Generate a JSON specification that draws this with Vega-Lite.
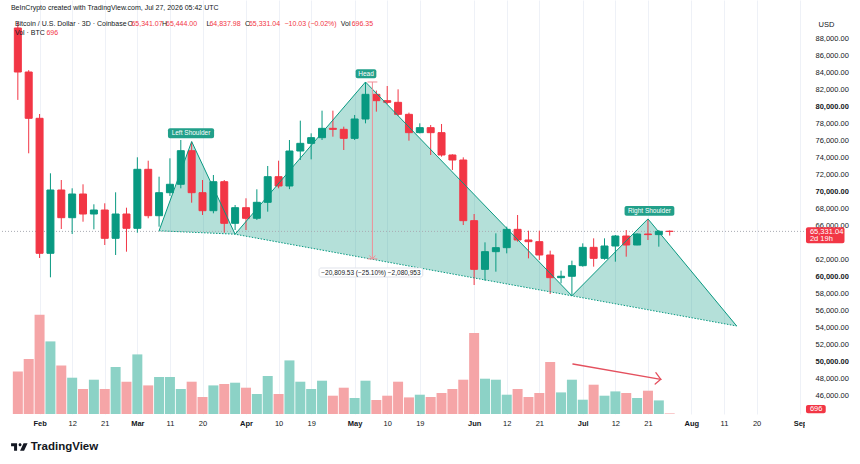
{
  "$schema": "https://vega.github.io/schema/vega-lite/v6.json",
  "width": 810,
  "height": 414,
  "autosize": "none",
  "padding": {"left": 0, "top": 0, "right": 50, "bottom": 50},
  "background": "white",
  "config": {
    "view": {"stroke": null},
    "font": "Liberation Sans",
    "axis": {
      "labelFont": "Liberation Sans", "titleFont": "Liberation Sans",
      "labelOverlap": false, "labelFlush": false, "labelBound": false,
      "domain": false, "ticks": false, "grid": true, "gridColor": "#eef1f7", "gridWidth": 1,
      "labelColor": "#131722", "labelFontSize": 7.5, "labelPadding": 5
    }
  },
  "datasets": {
    "bars": [
      {"t":"2026-01-28","open":89259,"high":89965,"low":80800,"close":84082,"volume":51120},
      {"t":"2026-01-31","open":84082,"high":84300,"low":74518,"close":78635,"volume":66000},
      {"t":"2026-02-03","open":78635,"high":79141,"low":62200,"close":62753,"volume":119160},
      {"t":"2026-02-06","open":62753,"high":72165,"low":59929,"close":70200,"volume":87120},
      {"t":"2026-02-09","open":70200,"high":71376,"low":65612,"close":66941,"volume":58320},
      {"t":"2026-02-12","open":66941,"high":70400,"low":65023,"close":69729,"volume":43560},
      {"t":"2026-02-15","open":69729,"high":70870,"low":66470,"close":67376,"volume":30000},
      {"t":"2026-02-18","open":67376,"high":68518,"low":65576,"close":67847,"volume":41160},
      {"t":"2026-02-21","open":67847,"high":68635,"low":63729,"close":64518,"volume":30000},
      {"t":"2026-02-24","open":64518,"high":69929,"low":62553,"close":67376,"volume":56400},
      {"t":"2026-02-27","open":67376,"high":68118,"low":62941,"close":65694,"volume":38760},
      {"t":"2026-03-02","open":65694,"high":74047,"low":65176,"close":72635,"volume":71520},
      {"t":"2026-03-05","open":72635,"high":73647,"low":66871,"close":67176,"volume":34320},
      {"t":"2026-03-08","open":67176,"high":71765,"low":65882,"close":69882,"volume":44400},
      {"t":"2026-03-11","open":69882,"high":73929,"low":69500,"close":70871,"volume":44400},
      {"t":"2026-03-14","open":70871,"high":76082,"low":70400,"close":74824,"volume":30000},
      {"t":"2026-03-17","open":74824,"high":75882,"low":68706,"close":69882,"volume":38760},
      {"t":"2026-03-20","open":69882,"high":71376,"low":67259,"close":67765,"volume":20400},
      {"t":"2026-03-23","open":67765,"high":71965,"low":67459,"close":71176,"volume":34320},
      {"t":"2026-03-26","open":71176,"high":71376,"low":65176,"close":66282,"volume":36000},
      {"t":"2026-03-29","open":66282,"high":68435,"low":65494,"close":68118,"volume":37560},
      {"t":"2026-04-01","open":68118,"high":69224,"low":65494,"close":66871,"volume":31560},
      {"t":"2026-04-04","open":66871,"high":70282,"low":66671,"close":68753,"volume":24000},
      {"t":"2026-04-07","open":68753,"high":73024,"low":67647,"close":71765,"volume":45600},
      {"t":"2026-04-10","open":71765,"high":73647,"low":70400,"close":70671,"volume":24000},
      {"t":"2026-04-13","open":70671,"high":76082,"low":70300,"close":74788,"volume":64320},
      {"t":"2026-04-16","open":74788,"high":78357,"low":73729,"close":75690,"volume":38760},
      {"t":"2026-04-19","open":75690,"high":76866,"low":73808,"close":76356,"volume":30000},
      {"t":"2026-04-22","open":76356,"high":79533,"low":76082,"close":77455,"volume":39960},
      {"t":"2026-04-25","open":77455,"high":79533,"low":76474,"close":77337,"volume":21960},
      {"t":"2026-04-28","open":77337,"high":77651,"low":74906,"close":76278,"volume":31560},
      {"t":"2026-05-01","open":76278,"high":79024,"low":76082,"close":78553,"volume":19200},
      {"t":"2026-05-04","open":78553,"high":82906,"low":78043,"close":81455,"volume":39960},
      {"t":"2026-05-07","open":81455,"high":81900,"low":79416,"close":80710,"volume":16800},
      {"t":"2026-05-10","open":80710,"high":82435,"low":80318,"close":80513,"volume":21960},
      {"t":"2026-05-13","open":80513,"high":82043,"low":78906,"close":79102,"volume":38760},
      {"t":"2026-05-16","open":79102,"high":79300,"low":76004,"close":76945,"volume":19920},
      {"t":"2026-05-19","open":76945,"high":78043,"low":76866,"close":77533,"volume":23160},
      {"t":"2026-05-22","open":77533,"high":77847,"low":74318,"close":76945,"volume":20400},
      {"t":"2026-05-25","open":76945,"high":77965,"low":74121,"close":74318,"volume":25200},
      {"t":"2026-05-28","open":74318,"high":74400,"low":72553,"close":73729,"volume":30000},
      {"t":"2026-05-31","open":73729,"high":74043,"low":66082,"close":66592,"volume":41160},
      {"t":"2026-06-03","open":66592,"high":67376,"low":59023,"close":60867,"volume":97200},
      {"t":"2026-06-06","open":60867,"high":64043,"low":59533,"close":62945,"volume":42360},
      {"t":"2026-06-09","open":62945,"high":65102,"low":60592,"close":63416,"volume":41160},
      {"t":"2026-06-12","open":63416,"high":65886,"low":62749,"close":65572,"volume":23160},
      {"t":"2026-06-15","open":65572,"high":67258,"low":64121,"close":64318,"volume":30000},
      {"t":"2026-06-18","open":64318,"high":65415,"low":62160,"close":64121,"volume":20400},
      {"t":"2026-06-21","open":64121,"high":65415,"low":61965,"close":62553,"volume":25200},
      {"t":"2026-06-24","open":62553,"high":63063,"low":57964,"close":59886,"volume":62400},
      {"t":"2026-06-27","open":59886,"high":60710,"low":59219,"close":60050,"volume":25920},
      {"t":"2026-06-30","open":60050,"high":61886,"low":57750,"close":61298,"volume":41160},
      {"t":"2026-07-03","open":61298,"high":63925,"low":61180,"close":63455,"volume":17160},
      {"t":"2026-07-06","open":63455,"high":64513,"low":61180,"close":62160,"volume":35160},
      {"t":"2026-07-09","open":62160,"high":64513,"low":62000,"close":63611,"volume":21960},
      {"t":"2026-07-12","open":63611,"high":64905,"low":61768,"close":64788,"volume":27120},
      {"t":"2026-07-15","open":64788,"high":65494,"low":62356,"close":63729,"volume":25200},
      {"t":"2026-07-18","open":63729,"high":65102,"low":63700,"close":65023,"volume":19200},
      {"t":"2026-07-21","open":65023,"high":66700,"low":64317,"close":64950,"volume":27960},
      {"t":"2026-07-24","open":64950,"high":65494,"low":63533,"close":65341.07,"volume":16320},
      {"t":"2026-07-27","open":65341.07,"high":65444,"low":64837.98,"close":65331.04,"volume":696.35}
    ],
    "hs_fill": [
      {"tri":"left","ord":0,"t":"2026-03-08","p":65400},
      {"tri":"left","ord":1,"t":"2026-03-17","p":75900},
      {"tri":"left","ord":2,"t":"2026-03-29","p":65000},
      {"tri":"head","ord":0,"t":"2026-03-29","p":65000},
      {"tri":"head","ord":1,"t":"2026-05-04","p":82906},
      {"tri":"head","ord":2,"t":"2026-06-30","p":57750},
      {"tri":"right","ord":0,"t":"2026-06-30","p":57750},
      {"tri":"right","ord":1,"t":"2026-07-21","p":66800},
      {"tri":"right","ord":2,"t":"2026-08-14T12:00:00Z","p":54200}
    ],
    "hs_line": [
      {"ord":0,"t":"2026-03-08","p":65400},
      {"ord":1,"t":"2026-03-17","p":75900},
      {"ord":2,"t":"2026-03-29","p":65000},
      {"ord":3,"t":"2026-05-04","p":82906},
      {"ord":4,"t":"2026-06-30","p":57750},
      {"ord":5,"t":"2026-07-21","p":66800},
      {"ord":6,"t":"2026-08-14T12:00:00Z","p":54200}
    ],
    "hs_base": [
      {"ord":0,"t":"2026-03-08","p":65400},
      {"ord":1,"t":"2026-03-29","p":65000},
      {"ord":2,"t":"2026-06-30","p":57750},
      {"ord":3,"t":"2026-08-14T12:00:00Z","p":54200}
    ],
    "measure": [
      {"t":"2026-05-05T21:49:00Z","t2":"2026-05-05T21:49:00Z","p":82906,"p2":62097},
      {"t":"2026-05-04T13:05:00Z","t2":"2026-05-07T06:33:00Z","p":82906,"p2":82906},
      {"t":"2026-05-04T13:05:00Z","t2":"2026-05-07T06:33:00Z","p":62097,"p2":62097},
      {"t":"2026-05-05T02:11:00Z","t2":"2026-05-05T21:49:00Z","p":62494,"p2":62097},
      {"t":"2026-05-05T21:49:00Z","t2":"2026-05-06T17:27:00Z","p":62097,"p2":62494}
    ],
    "vol_arrow": [
      {"t":"2026-06-30T06:33:00Z","t2":"2026-07-24T13:05:00Z","p":49729,"p2":47929},
      {"t":"2026-07-23T04:22:00Z","t2":"2026-07-24T13:05:00Z","p":48706,"p2":47929},
      {"t":"2026-07-22T23:49:00Z","t2":"2026-07-24T13:05:00Z","p":47376,"p2":47929}
    ],
    "boxes": [
      {"kind":"pattern","t":"2026-03-10T10:55:00Z","t2":"2026-03-23T04:36:00Z","p":77459,"p2":76282},
      {"kind":"pattern","t":"2026-05-01T06:33:00Z","t2":"2026-05-07T00:00:00Z","p":84400,"p2":83341},
      {"kind":"pattern","t":"2026-07-14T12:55:00Z","t2":"2026-07-28T06:49:00Z","p":68318,"p2":67176},
      {"kind":"measure","t":"2026-04-21T04:22:00Z","t2":"2026-05-19T19:38:00Z","p":61024,"p2":59965},
      {"kind":"price","t":"2026-09-02T15:16:00Z","t2":"2026-09-13T06:33:00Z","p":65812,"p2":63929},
      {"kind":"price","t":"2026-09-02T15:16:00Z","t2":"2026-09-08T02:11:00Z","p":44906,"p2":43929}
    ],
    "pattern_labels": [
      {"t":"2026-03-16T19:24:00Z","p":76871,"txt":"Left Shoulder"},
      {"t":"2026-05-04T03:16:00Z","p":83871,"txt":"Head"},
      {"t":"2026-07-21T09:49:00Z","p":67747,"txt":"Right Shoulder"}
    ],
    "price_labels": [
      {"t":"2026-09-03T17:27:00Z","p":65294,"txt":"65,331.04"},
      {"t":"2026-09-03T17:27:00Z","p":64400,"txt":"2d 19h"},
      {"t":"2026-09-03T17:27:00Z","p":44412,"txt":"696"}
    ],
    "header": [
      {"t":"2026-01-26T02:11:00Z","p":91612,"kind":"label","txt":"BeInCrypto created with TradingView.com, Jul 27, 2026 05:42 UTC"},
      {"t":"2026-01-27T04:22:00Z","p":89729,"kind":"label","txt":"Bitcoin / U.S. Dollar · 3D · Coinbase"},
      {"t":"2026-02-27T06:33:00Z","p":89729,"kind":"label","txt":"O"},
      {"t":"2026-02-28T08:44:00Z","p":89729,"kind":"value","txt":"65,341.07"},
      {"t":"2026-03-08T19:38:00Z","p":89729,"kind":"label","txt":"H"},
      {"t":"2026-03-09T21:49:00Z","p":89729,"kind":"value","txt":"65,444.00"},
      {"t":"2026-03-21T02:11:00Z","p":89729,"kind":"label","txt":"L"},
      {"t":"2026-03-21T21:49:00Z","p":89729,"kind":"value","txt":"64,837.98"},
      {"t":"2026-03-31T17:27:00Z","p":89729,"kind":"label","txt":"C"},
      {"t":"2026-04-01T19:38:00Z","p":89729,"kind":"value","txt":"65,331.04"},
      {"t":"2026-04-11T15:16:00Z","p":89729,"kind":"value","txt":"−10.03 (−0.02%)"},
      {"t":"2026-04-27T04:22:00Z","p":89729,"kind":"label","txt":"Vol"},
      {"t":"2026-04-30T04:22:00Z","p":89729,"kind":"value","txt":"696.35"},
      {"t":"2026-01-27T04:22:00Z","p":88671,"kind":"label","txt":"Vol · BTC"},
      {"t":"2026-02-04T21:49:00Z","p":88671,"kind":"value","txt":"696"}
    ]
  },
  "layer": [
    {
      "data": {"name": "bars"},
      "mark": {"type": "bar", "width": 10},
      "encoding": {
        "x": {
          "field": "t", "type": "temporal",
          "scale": {"type": "utc", "domain": [
            {"year": 2026, "month": "Jan", "date": 24, "hours": 10, "minutes": 55, "utc": true},
            {"year": 2026, "month": "Sep", "date": 2, "hours": 8, "minutes": 44, "utc": true}
          ]},
          "axis": {
            "title": null, "orient": "bottom", "tickCount": 100,
            "labelOverlap": false, "labelFlush": false,
            "labelFontWeight": {"condition": {"test": "utcdate(datum.value) <= 3", "value": "bold"}, "value": "normal"},
            "labelExpr": "utcdate(datum.value) <= 3 ? utcFormat(datum.value, '%b') : utcFormat(datum.value, '%-d')",
            "values": [
              {"year": 2026, "month": "Feb", "date": 3, "utc": true},
              {"year": 2026, "month": "Feb", "date": 12, "utc": true},
              {"year": 2026, "month": "Feb", "date": 21, "utc": true},
              {"year": 2026, "month": "Mar", "date": 2, "utc": true},
              {"year": 2026, "month": "Mar", "date": 11, "utc": true},
              {"year": 2026, "month": "Mar", "date": 20, "utc": true},
              {"year": 2026, "month": "Apr", "date": 1, "utc": true},
              {"year": 2026, "month": "Apr", "date": 10, "utc": true},
              {"year": 2026, "month": "Apr", "date": 19, "utc": true},
              {"year": 2026, "month": "May", "date": 1, "utc": true},
              {"year": 2026, "month": "May", "date": 10, "utc": true},
              {"year": 2026, "month": "May", "date": 19, "utc": true},
              {"year": 2026, "month": "Jun", "date": 3, "utc": true},
              {"year": 2026, "month": "Jun", "date": 12, "utc": true},
              {"year": 2026, "month": "Jun", "date": 21, "utc": true},
              {"year": 2026, "month": "Jul", "date": 3, "utc": true},
              {"year": 2026, "month": "Jul", "date": 12, "utc": true},
              {"year": 2026, "month": "Jul", "date": 21, "utc": true},
              {"year": 2026, "month": "Aug", "date": 2, "utc": true},
              {"year": 2026, "month": "Aug", "date": 11, "utc": true},
              {"year": 2026, "month": "Aug", "date": 20, "utc": true},
              {"year": 2026, "month": "Sep", "date": 1, "utc": true}
            ]
          }
        },
        "y": {"field": "volume", "type": "quantitative", "scale": {"domain": [0, 496800], "nice": false, "zero": true}, "axis": null},
        "color": {"condition": {"test": "datum.close >= datum.open", "value": "#8cd2c6"}, "value": "#f5a5a7"}
      }
    },
    {
      "layer": [
        {
          "data": {"name": "hs_fill"},
          "mark": {"type": "line", "interpolate": "linear-closed", "fill": "#089981", "fillOpacity": 0.3, "strokeWidth": 0},
          "encoding": {
            "x": {"field": "t", "type": "temporal"},
            "y": {
              "field": "p", "type": "quantitative",
              "scale": {"domain": [43847, 92553], "nice": false, "zero": false},
              "axis": {
                "orient": "right", "title": "USD", "titleAngle": 0, "titleAlign": "left", "titleBaseline": "middle",
                "titleX": 8, "titleY": 24, "titleFontSize": 7.5, "titleFontWeight": "normal", "titleColor": "#131722",
                "tickCount": 100, "labelOverlap": false, "labelFlush": false,
                "format": ",.2f",
                "labelFontWeight": {"condition": {"test": "datum.value % 10000 === 0", "value": "bold"}, "value": "normal"},
                "values": [46000, 48000, 50000, 52000, 54000, 56000, 58000, 60000, 62000, 66000, 68000, 70000, 72000, 74000, 76000, 78000, 80000, 82000, 84000, 86000, 88000]
              }
            },
            "detail": {"field": "tri"},
            "order": {"field": "ord"}
          }
        },
        {
          "data": {"values": [{"p": 65331.04}]},
          "mark": {"type": "rule", "color": "#a9abb3", "strokeWidth": 1, "strokeDash": [1, 2]},
          "encoding": {"y": {"field": "p", "type": "quantitative"}}
        },
        {
          "data": {"name": "bars"},
          "mark": {"type": "rule", "strokeWidth": 1},
          "encoding": {
            "x": {"field": "t", "type": "temporal"},
            "y": {"field": "low", "type": "quantitative"},
            "y2": {"field": "high"},
            "color": {"condition": {"test": "datum.close >= datum.open", "value": "#089981"}, "value": "#f23645"}
          }
        },
        {
          "data": {"name": "bars"},
          "mark": {"type": "bar", "width": 7, "strokeWidth": 1},
          "encoding": {
            "x": {"field": "t", "type": "temporal"},
            "y": {"field": "open", "type": "quantitative"},
            "y2": {"field": "close"},
            "color": {"condition": {"test": "datum.close >= datum.open", "value": "#089981"}, "value": "#f23645"},
            "stroke": {"condition": {"test": "datum.close >= datum.open", "value": "#089981"}, "value": "#f23645"}
          }
        },
        {
          "data": {"name": "hs_base"},
          "mark": {"type": "line", "color": "#089981", "strokeWidth": 1, "strokeDash": [1.5, 1.5]},
          "encoding": {
            "x": {"field": "t", "type": "temporal"},
            "y": {"field": "p", "type": "quantitative"},
            "order": {"field": "ord"}
          }
        },
        {
          "data": {"name": "hs_line"},
          "mark": {"type": "line", "color": "#089981", "strokeWidth": 1},
          "encoding": {
            "x": {"field": "t", "type": "temporal"},
            "y": {"field": "p", "type": "quantitative"},
            "order": {"field": "ord"}
          }
        },
        {
          "data": {"name": "measure"},
          "mark": {"type": "rule", "color": "#ef8f98", "strokeWidth": 1},
          "encoding": {
            "x": {"field": "t", "type": "temporal"},
            "x2": {"field": "t2"},
            "y": {"field": "p", "type": "quantitative"},
            "y2": {"field": "p2"}
          }
        },
        {
          "data": {"name": "vol_arrow"},
          "mark": {"type": "rule", "color": "#e4505e", "strokeWidth": 1.3, "strokeCap": "round"},
          "encoding": {
            "x": {"field": "t", "type": "temporal"},
            "x2": {"field": "t2"},
            "y": {"field": "p", "type": "quantitative"},
            "y2": {"field": "p2"}
          }
        },
        {
          "data": {"name": "boxes"},
          "mark": {"type": "rect", "cornerRadius": 2},
          "encoding": {
            "x": {"field": "t", "type": "temporal"},
            "x2": {"field": "t2"},
            "y": {"field": "p", "type": "quantitative"},
            "y2": {"field": "p2"},
            "fill": {"field": "kind", "type": "nominal", "scale": {"domain": ["pattern", "measure", "price"], "range": ["#22a08a", "#ffffff", "#f23645"]}, "legend": null},
            "stroke": {"condition": {"test": "datum.kind === 'measure'", "value": "#e0e3eb"}, "value": null}
          }
        },
        {
          "data": {"name": "pattern_labels"},
          "mark": {"type": "text", "color": "white", "fontSize": 6.5, "align": "center", "baseline": "middle"},
          "encoding": {
            "x": {"field": "t", "type": "temporal"},
            "y": {"field": "p", "type": "quantitative"},
            "text": {"field": "txt"}
          }
        },
        {
          "data": {"values": [{"t": "2026-05-05T12:00:00Z", "p": 60494, "txt": "−20,809.53 (−25.10%) −2,080,953"}]},
          "mark": {"type": "text", "color": "#131722", "fontSize": 6.5, "align": "center", "baseline": "middle"},
          "encoding": {
            "x": {"field": "t", "type": "temporal"},
            "y": {"field": "p", "type": "quantitative"},
            "text": {"field": "txt"}
          }
        },
        {
          "data": {"name": "price_labels"},
          "mark": {"type": "text", "color": "white", "fontSize": 7.5, "align": "left", "baseline": "middle"},
          "encoding": {
            "x": {"field": "t", "type": "temporal"},
            "y": {"field": "p", "type": "quantitative"},
            "text": {"field": "txt"}
          }
        },
        {
          "data": {"name": "header"},
          "mark": {"type": "text", "fontSize": 7, "align": "left", "baseline": "middle"},
          "encoding": {
            "x": {"field": "t", "type": "temporal"},
            "y": {"field": "p", "type": "quantitative"},
            "text": {"field": "txt"},
            "color": {"field": "kind", "type": "nominal", "scale": {"domain": ["label", "value"], "range": ["#131722", "#f23645"]}, "legend": null}
          }
        },
        {
          "data": {"values": [{"t": "2026-09-02T08:44:00Z", "t2": "2026-10-31", "p": 43740, "p2": 36000}]},
          "mark": {"type": "rect", "color": "white"},
          "encoding": {
            "x": {"field": "t", "type": "temporal"},
            "x2": {"field": "t2"},
            "y": {"field": "p", "type": "quantitative"},
            "y2": {"field": "p2"}
          }
        },
        {
          "data": {"values": [{"t": "2026-01-28T09:49:00Z", "p": 39965}]},
          "mark": {
            "type": "point", "filled": true, "color": "#131722", "size": 289, "opacity": 1,
            "shape": "M-0.971,-0.441L-0.265,-0.441L-0.265,0.441L-0.618,0.441L-0.618,-0.088L-0.971,-0.088Z M0.264,-0.265A0.176,0.176,0,1,1,-0.088,-0.265A0.176,0.176,0,1,1,0.264,-0.265Z M0.5,-0.441L0.971,-0.441L0.559,0.441L0.088,0.441Z"
          },
          "encoding": {
            "x": {"field": "t", "type": "temporal"},
            "y": {"field": "p", "type": "quantitative"}
          }
        },
        {
          "data": {"values": [{"t": "2026-01-31T13:05:00Z", "p": 39906, "txt": "TradingView"}]},
          "mark": {"type": "text", "color": "#131722", "fontSize": 11.5, "fontWeight": "bold", "align": "left", "baseline": "middle"},
          "encoding": {
            "x": {"field": "t", "type": "temporal"},
            "y": {"field": "p", "type": "quantitative"},
            "text": {"field": "txt"}
          }
        }
      ]
    }
  ],
  "resolve": {"scale": {"y": "independent"}}
}
